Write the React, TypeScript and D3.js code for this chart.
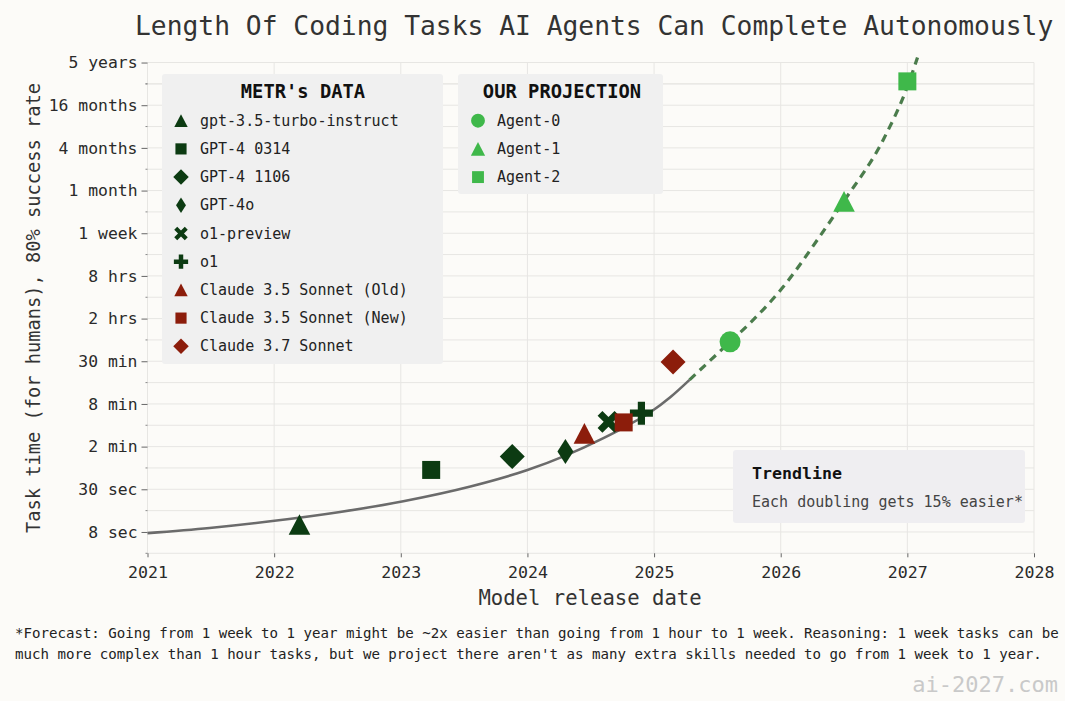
import React, { useEffect, useRef } from "react";
import * as d3 from "d3";

// axis ticks
const yearTicks = [2021, 2022, 2023, 2024, 2025, 2026, 2027, 2028];
const taskSecs = [8, 32, 128, 512, 2048, 8192, 32768, 131072, 524288, 2097152, 8388608, 33554432];
const taskLabels = ["8 sec", "30 sec", "2 min", "8 min", "30 min", "2 hrs", "8 hrs", "1 week", "1 month", "4 months", "16 months", "5 years"];

// METR's measured models (release date as decimal year, task time in seconds)
const metrNames = ["gpt-3.5-turbo-instruct", "GPT-4 0314", "GPT-4 1106", "GPT-4o", "o1-preview", "o1", "Claude 3.5 Sonnet (Old)", "Claude 3.5 Sonnet (New)", "Claude 3.7 Sonnet"];
const metrDates = [2022.2, 2023.24, 2023.88, 2024.3, 2024.64, 2024.9, 2024.45, 2024.76, 2025.15];
const metrSecs = [10.2, 60, 92.5, 109, 286, 379, 197, 281, 2000];
const metrShapes = ["triangle", "square", "diamond", "thin", "x", "plus", "triangle", "square", "diamond"];
const metrColors = ["#0c3b12", "#0c3b12", "#0c3b12", "#0c3b12", "#0c3b12", "#0c3b12", "#8c1d0b", "#8c1d0b", "#8c1d0b"];

// projection
const agentNames = ["Agent-0", "Agent-1", "Agent-2"];
const agentDates = [2025.6, 2026.5, 2027.0];
const agentSecs = [3850, 368500, 18200000];
const agentShapes = ["circle", "triangle", "square"];
const agentColor = "#3fb84a";

// trendline
const trendDates = [2021.0, 2021.49, 2021.97, 2022.52, 2023.02, 2023.55, 2024.0, 2024.3, 2024.6, 2024.79, 2024.97, 2025.13, 2025.28];
const trendSecs = [7.7, 9.1, 11.3, 15.3, 21.7, 35.0, 59.8, 95.6, 169, 254, 391, 642, 1120];
const projDates = [2025.28, 2025.6, 2025.76, 2026.02, 2026.29, 2026.49, 2026.81, 2027.0, 2027.08];
const projSecs = [1120, 3850, 7150, 23000, 106000, 353000, 2740000, 15300000, 39400000];

const FONT = "'DejaVu Sans Mono', monospace";

function markerPath(shape: string, k: number) {
  const p = d3.path();
  const poly = (pts: number[][]) => {
    pts.forEach((q, i) => (i ? p.lineTo(q[0] * k, q[1] * k) : p.moveTo(q[0] * k, q[1] * k)));
    p.closePath();
  };
  const cross = (L: number, t: number, rot: number) => {
    const base = [[-t, -L], [t, -L], [t, -t], [L, -t], [L, t], [t, t], [t, L], [-t, L], [-t, t], [-L, t], [-L, -t], [-t, -t]];
    const c = Math.cos(rot), s = Math.sin(rot);
    poly(base.map(([a, b]) => [a * c - b * s, a * s + b * c]));
  };
  if (shape === "circle") p.arc(0, 0, 10.5 * k, 0, 2 * Math.PI);
  else if (shape === "triangle") poly([[0, -10.3], [10.8, 10.3], [-10.8, 10.3]]);
  else if (shape === "square") poly([[-9, -9], [9, -9], [9, 9], [-9, 9]]);
  else if (shape === "diamond") poly([[0, -12.5], [12.5, 0], [0, 12.5], [-12.5, 0]]);
  else if (shape === "thin") poly([[0, -12.5], [8, 0], [0, 12.5], [-8, 0]]);
  else if (shape === "plus") cross(11.5, 3.6, 0);
  else if (shape === "x") cross(12, 3.4, Math.PI / 4);
  return p.toString();
}

const App = () => {
  const ref = useRef<SVGSVGElement>(null);

  useEffect(() => {
    const svg = d3.select(ref.current);
    svg.selectAll("*").remove();

    const x = d3.scaleLinear().domain([2021, 2028]).range([147.5, 1034]);
    const y = d3.scaleLog().domain([4, 33554432 * 2]).range([553.3, 41.2]);

    svg.append("rect").attr("width", 1065).attr("height", 701).attr("fill", "#fcfbf8");

    // gridlines
    const minor = taskSecs.map(t => t / 2).concat([taskSecs[taskSecs.length - 2] * 2]);
    const grid = svg.append("g").attr("stroke", "#e7e6e3").attr("stroke-width", 1);
    grid.selectAll("line.h").data(taskSecs.concat(minor)).join("line")
      .attr("x1", x(2021)).attr("x2", x(2028))
      .attr("y1", d => y(d)).attr("y2", d => y(d));
    grid.selectAll("line.v").data(yearTicks).join("line")
      .attr("x1", d => x(d)).attr("x2", d => x(d))
      .attr("y1", y(taskSecs[taskSecs.length - 1])).attr("y2", y(4));

    // axes
    const yAxis = svg.append("g").attr("transform", `translate(${x(2021)},0)`)
      .call(d3.axisLeft(y).tickValues(taskSecs).tickFormat((d, i) => taskLabels[i]).tickSize(6).tickPadding(4));
    yAxis.select(".domain").remove();
    yAxis.selectAll("line").attr("stroke", "#666");
    yAxis.selectAll("text").attr("font-family", FONT).attr("font-size", 16.4).attr("fill", "#2a2a2a");
    svg.append("g").selectAll("line").data(minor).join("line")
      .attr("x1", x(2021) - 2).attr("x2", x(2021)).attr("y1", d => y(d)).attr("y2", d => y(d))
      .attr("stroke", "#888");

    const xAxis = svg.append("g").attr("transform", `translate(0,${y(4)})`)
      .call(d3.axisBottom(x).tickValues(yearTicks).tickFormat(d3.format("d")).tickSize(4).tickPadding(9));
    xAxis.select(".domain").remove();
    xAxis.selectAll("line").attr("stroke", "#666");
    xAxis.selectAll("text").attr("font-family", FONT).attr("font-size", 16.6).attr("fill", "#2a2a2a");

    // titles
    svg.append("text").attr("x", 135).attr("y", 35).text("Length Of Coding Tasks AI Agents Can Complete Autonomously")
      .attr("font-family", FONT).attr("font-size", 26.3).attr("fill", "#333");
    svg.append("text").attr("transform", "translate(33,308) rotate(-90)").attr("text-anchor", "middle")
      .attr("dominant-baseline", "central").text("Task time (for humans), 80% success rate")
      .attr("font-family", FONT).attr("font-size", 18.7).attr("fill", "#333");
    svg.append("text").attr("x", 590).attr("y", 605).attr("text-anchor", "middle").text("Model release date")
      .attr("font-family", FONT).attr("font-size", 20.6).attr("fill", "#333");

    // trendlines
    const solid = d3.line<number>().x(i => x(trendDates[i])).y(i => y(trendSecs[i])).curve(d3.curveMonotoneX);
    const dashed = d3.line<number>().x(i => x(projDates[i])).y(i => y(projSecs[i])).curve(d3.curveMonotoneX);
    svg.append("path").attr("d", solid(d3.range(trendDates.length)))
      .attr("fill", "none").attr("stroke", "#6b6b6b").attr("stroke-width", 2.6);
    svg.append("path").attr("d", dashed(d3.range(projDates.length)))
      .attr("fill", "none").attr("stroke", "#4b7c4c").attr("stroke-width", 3.2).attr("stroke-dasharray", "8 6");

    // legend boxes
    svg.append("rect").attr("x", 162).attr("y", 74).attr("width", 281).attr("height", 290).attr("rx", 3).attr("fill", "#f0f0f0");
    svg.append("rect").attr("x", 458).attr("y", 74).attr("width", 205).attr("height", 120).attr("rx", 3).attr("fill", "#f0f0f0");
    svg.append("rect").attr("x", 733).attr("y", 450).attr("width", 292).attr("height", 73).attr("rx", 3).attr("fill", "#efeef1");

    // data markers
    svg.append("g").selectAll("path").data(metrNames).join("path")
      .attr("d", (d, i) => markerPath(metrShapes[i], 1))
      .attr("transform", (d, i) => `translate(${x(metrDates[i])},${y(metrSecs[i])})`)
      .attr("fill", (d, i) => metrColors[i]);
    svg.append("g").selectAll("path").data(agentNames).join("path")
      .attr("d", (d, i) => markerPath(agentShapes[i], 1))
      .attr("transform", (d, i) => `translate(${x(agentDates[i])},${y(agentSecs[i])})`)
      .attr("fill", agentColor);

    // METR legend
    svg.append("text").attr("x", 303).attr("y", 91).attr("text-anchor", "middle").attr("dominant-baseline", "central")
      .text("METR's DATA").attr("font-family", FONT).attr("font-weight", "bold").attr("font-size", 18.8).attr("fill", "#111");
    const lg = svg.append("g").selectAll("g").data(metrNames).join("g")
      .attr("transform", (d, i) => `translate(181,${120.7 + i * 28.2})`);
    lg.append("path").attr("d", (d, i) => markerPath(metrShapes[i], 0.62)).attr("fill", (d, i) => metrColors[i]);
    lg.append("text").attr("x", 19).attr("dominant-baseline", "central").text(d => d)
      .attr("font-family", FONT).attr("font-size", 15).attr("fill", "#222");

    // projection legend
    svg.append("text").attr("x", 562).attr("y", 91).attr("text-anchor", "middle").attr("dominant-baseline", "central")
      .text("OUR PROJECTION").attr("font-family", FONT).attr("font-weight", "bold").attr("font-size", 18.8).attr("fill", "#111");
    const la = svg.append("g").selectAll("g").data(agentNames).join("g")
      .attr("transform", (d, i) => `translate(478,${120.7 + i * 28.2})`);
    la.append("path").attr("d", (d, i) => markerPath(agentShapes[i], 0.66)).attr("fill", agentColor);
    la.append("text").attr("x", 19).attr("dominant-baseline", "central").text(d => d)
      .attr("font-family", FONT).attr("font-size", 15).attr("fill", "#222");

    // trendline note
    svg.append("text").attr("x", 752).attr("y", 473).attr("dominant-baseline", "central").text("Trendline")
      .attr("font-family", FONT).attr("font-weight", "bold").attr("font-size", 16.6).attr("fill", "#111");
    svg.append("text").attr("x", 752).attr("y", 502).attr("dominant-baseline", "central").text("Each doubling gets 15% easier*")
      .attr("font-family", FONT).attr("font-size", 15).attr("fill", "#444");

    // footnote
    const notes = [
      "*Forecast: Going from 1 week to 1 year might be ~2x easier than going from 1 hour to 1 week. Reasoning: 1 week tasks can be",
      "much more complex than 1 hour tasks, but we project there aren't as many extra skills needed to go from 1 week to 1 year.",
    ];
    svg.append("g").selectAll("text").data(notes).join("text")
      .attr("x", 15).attr("y", (d, i) => 638 + i * 21).text(d => d)
      .attr("font-family", FONT).attr("font-size", 14.1).attr("fill", "#222");
    svg.append("text").attr("x", 1058).attr("y", 692).attr("text-anchor", "end").text("ai-2027.com")
      .attr("font-family", FONT).attr("font-size", 22).attr("fill", "#c9c9c9");
  }, []);

  return (
    <svg ref={ref} width={1065} height={701} style={{ position: "absolute", left: 0, top: 0 }} />
  );
};

export default App;
